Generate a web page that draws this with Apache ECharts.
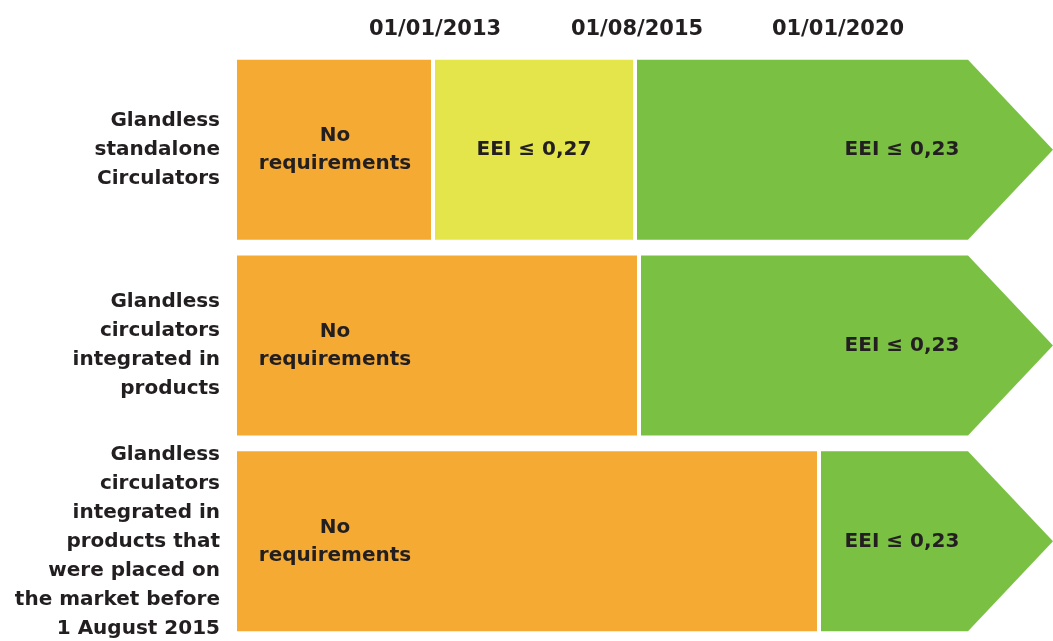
<!DOCTYPE html>
<html>
<head>
<meta charset="utf-8">
<script src="https://cdn.jsdelivr.net/npm/echarts@6/dist/echarts.min.js"></script>
<style>
html,body{margin:0;padding:0;background:#fff;}
#chart{width:1053px;height:641px;}
</style>
</head>
<body>
<div id="chart"></div>
<script>
// Row (category) labels
const rowLabels = [
  'Glandless\nstandalone\nCirculators',
  'Glandless\ncirculators\nintegrated in\nproducts',
  'Glandless\ncirculators\nintegrated in\nproducts that\nwere placed on\nthe market before\n1 August 2015'
];
// Header milestone dates and their stage positions on the x axis
const milestones = ['01/01/2013', '01/08/2015', '01/01/2020'];
const milestoneX = [1, 2.01, 3.015];
// Segments (stage units along the x axis)
const segRow   = [0, 0, 0, 1, 1, 2, 2];
const segFrom  = [0, 0.99, 2.0, 0, 2.02, 0, 2.92];
const segTo    = [0.99, 2.0, 4.09, 2.02, 4.09, 2.92, 4.09];
const segLevel = ['none', 'eei27', 'eei23', 'none', 'eei23', 'none', 'eei23'];
const segText  = ['No\nrequirements', 'EEI ≤ 0,27', 'EEI ≤ 0,23', 'No\nrequirements', 'EEI ≤ 0,23', 'No\nrequirements', 'EEI ≤ 0,23'];
const xMax = 4.09;

const levelColor = { none: '#F5AA33', eei27: '#E3E54B', eei23: '#7AC143' };
const FONT = '"DejaVu Sans", sans-serif';
const TXT = '#231F20';

const segData = segRow.map((r, i) => [r, segFrom[i], segTo[i], i]);

const chart = echarts.init(document.getElementById('chart'), null, { renderer: 'canvas' });

function renderSeg(params, api) {
  const i = api.value(3);
  const row = api.value(0);
  const from = api.value(1), to = api.value(2);
  const p0 = api.coord([from, row]);
  const p1 = api.coord([to, row]);
  const h = 180;
  const cy = p0[1];
  const top = cy - h / 2, bot = cy + h / 2;
  const x0 = p0[0] + 2;
  const isArrow = to >= xMax;
  const head = 85;
  let shape, tx;
  if (isArrow) {
    const x1 = p1[0];
    shape = {
      type: 'polygon',
      shape: { points: [[x0, top], [x1 - head, top], [x1, cy], [x1 - head, bot], [x0, bot]] },
      style: { fill: levelColor[segLevel[i]] }
    };
    tx = x1 - head - 66;
  } else {
    const x1 = p1[0] - 2;
    shape = {
      type: 'rect',
      shape: { x: x0, y: top, width: x1 - x0, height: h },
      style: { fill: levelColor[segLevel[i]] }
    };
    if (segLevel[i] === 'none') {
      tx = api.coord([(from + milestoneX[0]) / 2, row])[0];
    } else {
      tx = (x0 + x1) / 2;
    }
  }
  return {
    type: 'group',
    children: [
      shape,
      {
        type: 'text',
        style: {
          x: tx, y: cy,
          text: segText[i],
          fill: TXT,
          font: 'bold 20px ' + FONT,
          lineHeight: 28,
          align: 'center',
          verticalAlign: 'middle'
        }
      }
    ]
  };
}

chart.setOption({
  animation: false,
  backgroundColor: '#ffffff',
  grid: { left: 235, right: 0, top: 52, bottom: -9, containLabel: false },
  xAxis: {
    type: 'value',
    position: 'top',
    min: 0,
    max: xMax,
    axisLine: { show: false },
    axisTick: { show: false },
    splitLine: { show: false },
    axisLabel: {
      customValues: milestoneX,
      formatter: function (v) {
        const k = milestoneX.indexOf(v);
        return k >= 0 ? milestones[k] : '';
      },
      color: TXT,
      fontFamily: FONT,
      fontWeight: 'bold',
      fontSize: 21,
      margin: 12
    }
  },
  yAxis: {
    type: 'category',
    inverse: true,
    data: rowLabels,
    axisLine: { show: false },
    axisTick: { show: false },
    splitLine: { show: false },
    axisLabel: {
      interval: 0,
      color: TXT,
      fontFamily: FONT,
      fontWeight: 'bold',
      fontSize: 20,
      lineHeight: 29,
      align: 'right',
      margin: 15
    }
  },
  series: [{
    type: 'custom',
    renderItem: renderSeg,
    encode: { x: [1, 2], y: 0 },
    data: segData,
    clip: false
  }]
});
</script>
</body>
</html>
